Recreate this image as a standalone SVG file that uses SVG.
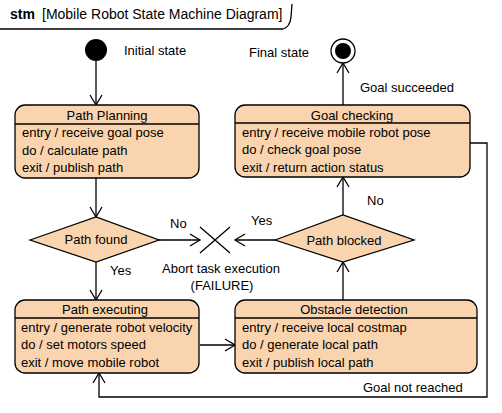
<svg xmlns="http://www.w3.org/2000/svg" width="502" height="413" viewBox="0 0 502 413">
<style>
text{font-family:"Liberation Sans",Arial,sans-serif;font-size:13px;fill:#000}
.t{text-anchor:middle}
.h{font-size:14px}
.box{fill:#f9d4ae;stroke:#000;stroke-width:1.3}
.ln{fill:none;stroke:#000;stroke-width:1.3}
.c{fill:none;stroke:#000;stroke-width:1.3;marker-end:url(#a)}
</style>
<defs>
<marker id="a" markerUnits="userSpaceOnUse" markerWidth="14" markerHeight="14" refX="11" refY="7" orient="auto">
<path d="M1,1 L11,7 L1,13" fill="none" stroke="#000" stroke-width="1.3"/>
</marker>
</defs>
<rect width="502" height="413" fill="#fff"/>
<g id="frame">
<text class="h" x="10" y="19" font-weight="bold">stm</text>
<text class="h" x="42" y="19">[Mobile Robot State Machine Diagram]</text>
<path class="ln" d="M0,29 H283 Q290,27 291,17 L292,4"/>
</g>
<g id="connectors">
<line class="c" x1="96" y1="61" x2="96" y2="105"/>
<line class="c" x1="96" y1="178" x2="96" y2="217"/>
<line class="c" x1="96" y1="262" x2="96" y2="300"/>
<line class="c" x1="159" y1="240" x2="200" y2="240"/>
<line class="c" x1="275" y1="240" x2="235" y2="240"/>
<line class="c" x1="200" y1="345" x2="235" y2="345"/>
<line class="c" x1="343" y1="300" x2="343" y2="262"/>
<line class="c" x1="343" y1="215" x2="343" y2="177"/>
<line class="c" x1="343" y1="105" x2="343" y2="63"/>
<polyline class="c" points="470,143 487,143 487,397 99,397 99,373"/>
<path class="ln" d="M200,227 L230,253 M200,253 L230,227"/>
<text x="170" y="228">No</text>
<text x="251" y="225">Yes</text>
<text x="110" y="275">Yes</text>
<text x="367" y="205">No</text>
<text x="360" y="92">Goal succeeded</text>
<text x="363" y="392">Goal not reached</text>
<text class="t" x="221" y="273">Abort task execution</text>
<text class="t" x="222" y="290">(FAILURE)</text>
</g>
<g id="initial">
<circle cx="96" cy="50" r="11" fill="#000"/>
<text x="124" y="55">Initial state</text>
</g>
<g id="final">
<circle cx="343" cy="51" r="12" fill="#fff" stroke="#000" stroke-width="1.3"/>
<circle cx="343" cy="51" r="8" fill="#000"/>
<text x="249" y="57">Final state</text>
</g>
<g id="path-planning">
<rect class="box" x="15" y="105" width="184" height="73" rx="10"/>
<line class="ln" x1="15" y1="124" x2="199" y2="124"/>
<text class="t" x="107" y="120">Path Planning</text>
<text x="22" y="137">entry / receive goal pose</text>
<text x="22" y="155">do / calculate path</text>
<text x="22" y="172">exit / publish path</text>
</g>
<g id="path-found">
<polygon class="box" points="30,240 96,217 159,240 96,262"/>
<text class="t" x="96" y="244">Path found</text>
</g>
<g id="path-blocked">
<polygon class="box" points="275,240 343,215 414,240 343,262"/>
<text class="t" x="344" y="245">Path blocked</text>
</g>
<g id="path-executing">
<rect class="box" x="15" y="300" width="184" height="73" rx="10"/>
<line class="ln" x1="15" y1="318" x2="199" y2="318"/>
<text class="t" x="105" y="314">Path executing</text>
<text x="21" y="332">entry / generate robot velocity</text>
<text x="21" y="349">do / set motors speed</text>
<text x="21" y="367">exit / move mobile robot</text>
</g>
<g id="obstacle-detection">
<rect class="box" x="235" y="300" width="242" height="73" rx="10"/>
<line class="ln" x1="235" y1="318" x2="477" y2="318"/>
<text class="t" x="354" y="314">Obstacle detection</text>
<text x="242" y="332">entry / receive local costmap</text>
<text x="242" y="349">do / generate local path</text>
<text x="242" y="367">exit / publish local path</text>
</g>
<g id="goal-checking">
<rect class="box" x="235" y="105" width="235" height="72" rx="10"/>
<line class="ln" x1="235" y1="123" x2="470" y2="123"/>
<text class="t" x="352" y="120">Goal checking</text>
<text x="242" y="137">entry / receive mobile robot pose</text>
<text x="242" y="154">do / check goal pose</text>
<text x="242" y="172">exit / return action status</text>
</g>
</svg>
